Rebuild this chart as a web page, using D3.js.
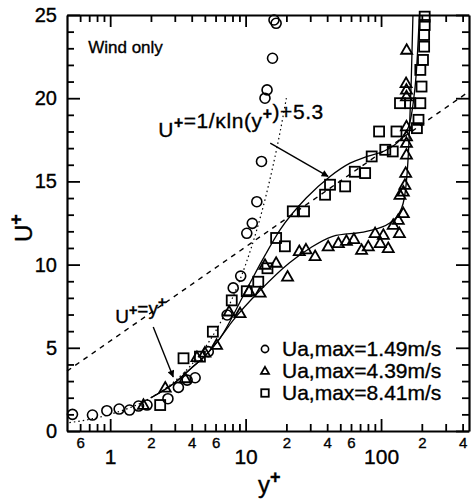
<!DOCTYPE html>
<html>
<head>
<meta charset="utf-8">
<title>Wind only</title>
<script src="https://cdn.jsdelivr.net/npm/d3@7"></script>
<style>
  body { margin: 0; background: #fff; }
  svg text { font-family: "Liberation Sans", Arial, Helvetica, sans-serif; fill: #000; stroke: #000; stroke-width: 0.35px; }
  .axis path, .axis line { fill: none; stroke: #000; }
  .axis path { stroke-width: 2.2; }
  .axis line { stroke-width: 1.8; }
</style>
</head>
<body>
<script>
// data: [y+, U+]
var circles = [
  [0.527,1.0],[0.74,0.96],[0.945,1.22],[1.165,1.32],[1.39,1.26],[1.62,1.5],[1.87,1.56],
  [2.67,1.94],[3.19,2.62],[3.7,3.06],[4.24,3.2],[5.3,4.77],[7.3,6.97],[8.1,8.6],[9.2,9.31],
  [10.2,11.88],[11.2,12.48],[12.1,13.78],[13.1,16.2],[13.9,20.0],[14.4,20.5],[15.8,22.4],
  [16.2,24.7],[16.8,24.5]
];
var triangles = [
  [1.76,1.56],[2.55,2.6],[3.57,3.16],[4.37,4.43],[5.0,4.7],[6.1,5.17],[7.55,7.17],[9.1,7.07],
  [10.6,8.4],[12.8,8.3],[13.9,9.98],[16.8,10.1],[20.4,9.27],[24.9,10.8],[27.9,10.9],[32.6,10.5],
  [40.7,11.08],[48.4,11.28],[55.5,11.42],[63,11.52],[71.8,10.88],[80.5,11.08],[90.4,11.88],
  [98.5,11.28],[104,11.78],[113,10.98],[123,12.38],[134,12.68],[136.6,11.88],[146,13.08],
  [138,14.18],[146,14.38],[150,14.78],[152,15.5],[154,16.6],[154,17.3],[154,17.7],[154,18.3],
  [154,20.1],[154,20.5],[153,20.9],[154.5,22.9]
];
var squares = [
  [2.34,1.56],[3.48,4.37],[4.6,4.47],[5.73,5.97],[7.9,7.85],[10.2,8.4],[12.4,8.97],[14.5,9.78],
  [16.8,11.6],[19.5,11.1],[22.3,13.2],[27,13.2],[38.6,14.2],[42,14.8],[54.3,14.7],[64,15.58],
  [76.3,15.5],[85.3,16.5],[96.7,18.0],[107.5,16.9],[122,16.8],[130,18.0],[138,19.7],[164,19.7],
  [184,18.2],[189,18.7],[195,19.7],[199,20.7],[195,21.7],[204,22.3],[208,23.1],[208,23.8],
  [210,24.4],[210,24.9]
];
// fitted curves (solid)
var fitSquares = [[2,2],[3,2.9],[4,3.8],[5,4.5],[6.5,5.6],[10,8.4],[14,10.6],[18,12.1],[28,14.0],
  [42,15.3],[59,16.1],[79,16.5],[110,16.9],[138,17.5],[160,18.3],[172,19.6],[182,21.5],[192,25]];
var fitTriangles = [[2,2],[3,2.9],[4,3.8],[5,4.5],[6.5,5.6],[8,6.6],[12.8,8.45],[21,10.1],[30,11.0],
  [44,11.7],[78,12.0],[116,12.5],[142,13.4],[154,15],[161,17.5],[167,21],[172,25]];
// U+ = y+ (dotted) and log law (dashed)
var linearLaw = [[0.5,0.5],[1,1],[2,2],[3,3],[4,4],[5,5],[6,6],[8,8],[10,10],[12,12],[14,14],[16,16],[18,18],[20,20]];
var logLaw = [[0.48,3.6],[446,20.4]];

var xMajor = [1, 10, 100];
var xMinor = [0.6,0.7,0.8,0.9,2,3,4,5,6,7,8,9,20,30,40,50,60,70,80,90,200,300,400];
var xMinorLabels = [0.6, 2, 4, 6, 20, 40, 60, 200, 400];
var yMajor = [0, 5, 10, 15, 20, 25];
var yMinor = d3.range(1, 25).filter(function(d){ return d % 5 !== 0; });
var legendLabels = ["Ua,max=1.49m/s", "Ua,max=4.39m/s", "Ua,max=8.41m/s"];

var width = 471, height = 503;
var pad = {left: 67, right: 469, top: 15, bottom: 431};

var svg = d3.select("body").append("svg")
  .attr("width", width)
  .attr("height", height);

var x = d3.scaleLog().domain([0.48, 446]).range([pad.left, pad.right]);
var y = d3.scaleLinear().domain([0, 25]).range([pad.bottom, pad.top]);

// axes, ticks pointing inward
function addAxis(axis, tx, ty) {
  return svg.append("g").attr("class", "axis")
    .attr("transform", "translate(" + tx + "," + ty + ")")
    .call(axis);
}
var noLabel = function(){ return ""; };

var gxMinor = addAxis(d3.axisBottom(x).tickValues(xMinor).tickSize(-7).tickSizeOuter(0).tickPadding(6)
  .tickFormat(function(d){ return xMinorLabels.indexOf(d) >= 0 ? String(d).replace(/^0\./, "").replace(/0+$/, "") : ""; }), 0, pad.bottom);
gxMinor.selectAll("text").style("font-size", "15px");
var gxMajor = addAxis(d3.axisBottom(x).tickValues(xMajor).tickSize(-12).tickSizeOuter(0).tickPadding(18)
  .tickFormat(d3.format("d")), 0, pad.bottom);
gxMajor.selectAll("text").style("font-size", "21px");
gxMajor.select(".domain").remove();

addAxis(d3.axisTop(x).tickValues(xMinor).tickSize(-7).tickSizeOuter(0).tickFormat(noLabel), 0, pad.top);
addAxis(d3.axisTop(x).tickValues(xMajor).tickSize(-12).tickSizeOuter(0).tickFormat(noLabel), 0, pad.top)
  .select(".domain").remove();

var gy = addAxis(d3.axisLeft(y).tickValues(yMajor).tickSize(-13).tickSizeOuter(0).tickPadding(10)
  .tickFormat(d3.format("d")), pad.left, 0);
gy.selectAll("text").style("font-size", "20px");
addAxis(d3.axisLeft(y).tickValues(yMinor).tickSize(-7).tickSizeOuter(0).tickFormat(noLabel), pad.left, 0)
  .select(".domain").remove();
addAxis(d3.axisRight(y).tickValues(yMajor).tickSize(-13).tickSizeOuter(0).tickFormat(noLabel), pad.right, 0);
addAxis(d3.axisRight(y).tickValues(yMinor).tickSize(-7).tickSizeOuter(0).tickFormat(noLabel), pad.right, 0)
  .select(".domain").remove();

// lines
var line = d3.line().x(function(d){ return x(d[0]); }).y(function(d){ return y(d[1]); });
var smooth = d3.line().x(function(d){ return x(d[0]); }).y(function(d){ return y(d[1]); })
  .curve(d3.curveMonotoneX);

svg.append("path").datum(linearLaw).attr("d", smooth)
  .attr("fill", "none").attr("stroke", "#000").attr("stroke-width", 1.2).attr("stroke-dasharray", "1.5,3");
svg.append("path").datum(logLaw).attr("d", line)
  .attr("fill", "none").attr("stroke", "#000").attr("stroke-width", 1.4).attr("stroke-dasharray", "5,5");
[fitSquares, fitTriangles].forEach(function(f){
  svg.append("path").datum(f).attr("d", smooth)
    .attr("fill", "none").attr("stroke", "#000").attr("stroke-width", 1.3);
});

// markers
function drawCircle(g, cx, cy, r) {
  g.append("circle").attr("cx", cx).attr("cy", cy).attr("r", r)
    .attr("fill", "none").attr("stroke", "#000").attr("stroke-width", 1.6);
}
function drawTriangle(g, cx, cy, s) {
  var h = s * 0.87;
  g.append("path")
    .attr("d", "M" + cx + "," + (cy - h * 0.6) + "L" + (cx + s / 2) + "," + (cy + h * 0.4) + "L" + (cx - s / 2) + "," + (cy + h * 0.4) + "Z")
    .attr("fill", "none").attr("stroke", "#000").attr("stroke-width", 1.8).attr("stroke-linejoin", "miter");
}
function drawSquare(g, cx, cy, s) {
  g.append("rect").attr("x", cx - s / 2).attr("y", cy - s / 2).attr("width", s).attr("height", s)
    .attr("fill", "none").attr("stroke", "#000").attr("stroke-width", 1.8);
}
var pts = svg.append("g");
circles.forEach(function(d){ drawCircle(pts, x(d[0]), y(d[1]), 5); });
triangles.forEach(function(d){ drawTriangle(pts, x(d[0]), y(d[1]), 11); });
squares.forEach(function(d){ drawSquare(pts, x(d[0]), y(d[1]), 10); });

// annotations
svg.append("defs").append("marker")
  .attr("id", "arrow").attr("viewBox", "0 0 10 10").attr("refX", 9).attr("refY", 5)
  .attr("markerWidth", 9).attr("markerHeight", 7).attr("markerUnits", "userSpaceOnUse")
  .attr("orient", "auto")
  .append("path").attr("d", "M0,0L10,5L0,10Z").attr("fill", "#000");

var arrows = [
  [[15.2, 17.3], [40.6, 15.3]],
  [[2.08, 6.25], [2.92, 3.25]]
];
arrows.forEach(function(a){
  svg.append("line")
    .attr("x1", x(a[0][0])).attr("y1", y(a[0][1]))
    .attr("x2", x(a[1][0])).attr("y2", y(a[1][1]))
    .attr("stroke", "#000").attr("stroke-width", 1.4).attr("marker-end", "url(#arrow)");
});

function supText(px, py, parts, size, spacing) {
  var t = svg.append("text").attr("x", px).attr("y", py).style("font-size", size + "px")
    .style("letter-spacing", (spacing || 0) + "px");
  parts.forEach(function(p){
    if (p.sup) {
      t.append("tspan").attr("dy", -size * 0.42).style("font-size", (size * 0.75) + "px")
        .style("font-weight", "bold").text(p.s);
      t.append("tspan").attr("dy", size * 0.42).text("");
    } else {
      t.append("tspan").text(p.s);
    }
  });
  return t;
}

svg.append("text").attr("x", x(0.688)).attr("y", y(22.7)).style("font-size", "17px").text("Wind only");
supText(x(2.26), y(17.67), [{s:"U"},{s:"+",sup:true},{s:"=1/κln(y"},{s:"+",sup:true},{s:")+5.3"}], 21, 0.6);
supText(x(1.09), y(6.49), [{s:"U"},{s:"+",sup:true},{s:"=y"},{s:"+",sup:true}], 19);

// legend
var legend = svg.append("g");
var legendY = [349, 371, 393];
drawCircle(legend, 265, legendY[0], 3.6);
drawTriangle(legend, 265, legendY[1], 8);
drawSquare(legend, 265, legendY[2], 7.5);
legendLabels.forEach(function(l, i){
  legend.append("text").attr("x", 282).attr("y", legendY[i] + 7)
    .style("font-size", "21px").text(l);
});

// axis titles
supText(258, 493, [{s:"y"},{s:"+",sup:true}], 24);
svg.append("g").attr("transform", "translate(32,242) rotate(-90)")
  .append("text").style("font-size", "24px")
  .call(function(t){
    t.append("tspan").text("U");
    t.append("tspan").attr("dy", -10).style("font-size", "18px").style("font-weight", "bold").text("+");
  });
</script>
</body>
</html>
